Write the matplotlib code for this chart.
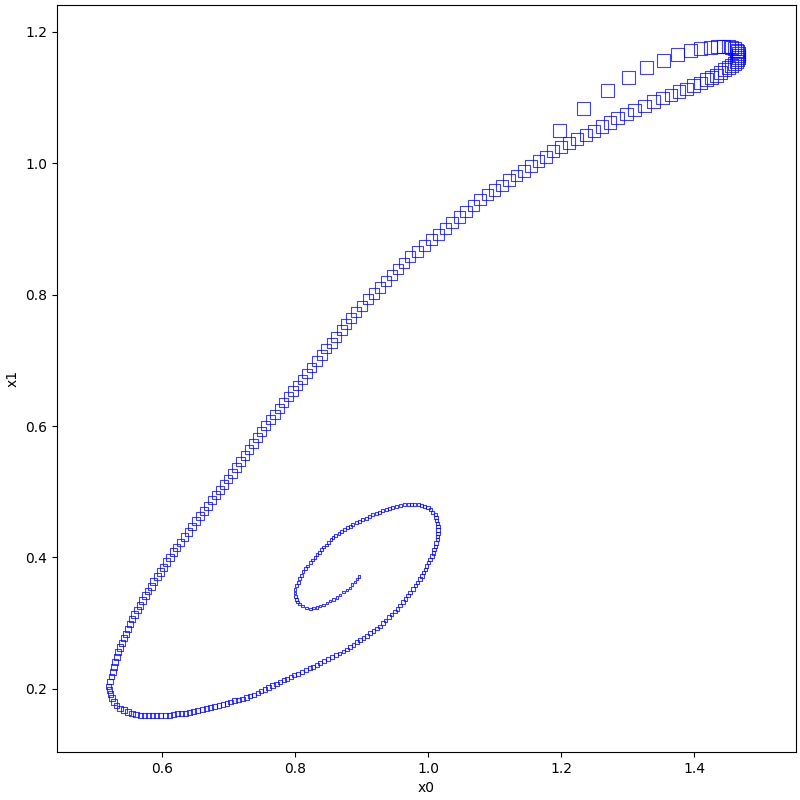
import numpy as np
import matplotlib
matplotlib.use("Agg")
import matplotlib.pyplot as plt

# trajectory (x0, x1), in time order
x0 = [
    # approach to the upper turn
    1.197, 1.234, 1.269, 1.302, 1.329, 1.354, 1.375, 1.394, 1.410, 1.424,
    1.435, 1.444, 1.451, 1.456, 1.460, 1.463, 1.465, 1.467, 1.467, 1.467,
    1.465, 1.463, 1.460, 1.456, 1.451, 1.446, 1.440, 1.433, 1.426, 1.418,
    1.409, 1.399, 1.388, 1.377, 1.365, 1.352, 1.339, 1.325, 1.310,
    # long descent
    1.298, 1.285, 1.273, 1.261, 1.249, 1.237, 1.224, 1.212, 1.200, 1.188,
    1.177, 1.166, 1.155, 1.144, 1.133, 1.122, 1.111, 1.100, 1.089, 1.078,
    1.068, 1.057, 1.047, 1.036, 1.026, 1.015, 1.005, 0.994, 0.984, 0.973,
    0.964, 0.955, 0.946, 0.937, 0.928, 0.919, 0.910, 0.901, 0.892,
    0.884, 0.877, 0.870, 0.862, 0.855, 0.847, 0.840, 0.833, 0.825, 0.818, 0.811,
    0.804, 0.797, 0.790, 0.783, 0.777, 0.770, 0.763, 0.756,
    0.750, 0.744, 0.737, 0.731, 0.725, 0.718, 0.712, 0.706, 0.699,
    0.693, 0.687, 0.681, 0.675, 0.669, 0.663, 0.657, 0.651,
    0.645, 0.640, 0.634, 0.628, 0.622, 0.617,
    0.612, 0.607, 0.602, 0.598, 0.593, 0.588, 0.584,
    0.579, 0.575, 0.571, 0.567, 0.563, 0.559, 0.555,
    0.552, 0.549, 0.546, 0.543, 0.540, 0.537, 0.534,
    0.532, 0.530, 0.528, 0.526, 0.524, 0.522, 0.520,
    # lower loop
    0.521, 0.523, 0.525, 0.528, 0.532, 0.537, 0.543, 0.549, 0.555,
    0.561, 0.568, 0.574, 0.580, 0.586, 0.592, 0.598, 0.605,
    0.611, 0.617, 0.623, 0.630, 0.636, 0.642,
    0.648, 0.654, 0.661, 0.667, 0.673, 0.679, 0.686, 0.692,
    0.698, 0.703, 0.709, 0.715, 0.721, 0.727, 0.732,
    0.738, 0.744, 0.749, 0.755, 0.760, 0.766, 0.772, 0.777,
    0.783, 0.788, 0.794, 0.799, 0.805, 0.811, 0.816, 0.822, 0.827,
    0.833, 0.838, 0.844, 0.850, 0.855, 0.861, 0.867, 0.873, 0.878,
    0.883, 0.888, 0.893, 0.898, 0.903, 0.908, 0.913, 0.918, 0.923, 0.928,
    0.932, 0.936, 0.941, 0.945, 0.950, 0.954, 0.958, 0.962,
    0.966, 0.970, 0.973, 0.977, 0.981, 0.984, 0.988,
    0.991, 0.993, 0.996, 0.998, 1.001, 1.003, 1.006,
    1.008, 1.009, 1.011, 1.012, 1.014,
    1.014, 1.015, 1.015, 1.015,
    1.014, 1.013, 1.012, 1.011,
    1.007, 1.004, 1.000,
    0.995, 0.990, 0.985,
    # inner spiral
    0.980, 0.975, 0.970,
    0.964, 0.959, 0.953, 0.947,
    0.942, 0.937, 0.932, 0.927, 0.922, 0.917,
    0.912, 0.907, 0.902, 0.897, 0.892, 0.887,
    0.883, 0.879, 0.874, 0.870, 0.866, 0.861, 0.857,
    0.854, 0.850, 0.847, 0.843, 0.840, 0.837, 0.833,
    0.830, 0.826, 0.823, 0.819, 0.816, 0.812,
    0.810, 0.807, 0.805, 0.802, 0.800,
    0.800, 0.801, 0.802,
    0.804, 0.807, 0.811,
    0.817, 0.823,
    0.828, 0.833, 0.838,
    0.843, 0.848, 0.853, 0.858, 0.863,
    0.868, 0.873, 0.878, 0.883,
    0.886, 0.890, 0.893, 0.896,
]
x1 = [
    1.049, 1.083, 1.110, 1.130, 1.146, 1.157, 1.165, 1.171, 1.174, 1.176,
    1.177, 1.177, 1.177, 1.176, 1.174, 1.172, 1.170, 1.167, 1.164, 1.161,
    1.158, 1.155, 1.151, 1.148, 1.145, 1.142, 1.138, 1.134, 1.130, 1.127,
    1.122, 1.118, 1.113, 1.109, 1.104, 1.099, 1.094, 1.087, 1.081,
    1.075, 1.069, 1.062, 1.056, 1.049, 1.043, 1.037, 1.030, 1.024, 1.018,
    1.010, 1.003, 0.996, 0.988, 0.981, 0.974, 0.966, 0.959, 0.952, 0.945,
    0.936, 0.927, 0.918, 0.910, 0.901, 0.892, 0.884, 0.875, 0.866, 0.858,
    0.848, 0.839, 0.830, 0.821, 0.811, 0.802, 0.793, 0.783, 0.774,
    0.765, 0.755, 0.746, 0.736, 0.727, 0.718, 0.708, 0.699, 0.689, 0.680, 0.671,
    0.662, 0.653, 0.645, 0.636, 0.627, 0.618, 0.610, 0.601,
    0.592, 0.583, 0.573, 0.564, 0.555, 0.546, 0.537, 0.528, 0.519,
    0.511, 0.503, 0.495, 0.487, 0.479, 0.471, 0.463, 0.455,
    0.447, 0.439, 0.431, 0.423, 0.415, 0.408,
    0.400, 0.393, 0.385, 0.378, 0.371, 0.363, 0.356,
    0.349, 0.342, 0.334, 0.327, 0.320, 0.313, 0.306,
    0.299, 0.291, 0.284, 0.277, 0.270, 0.263, 0.256,
    0.248, 0.241, 0.233, 0.226, 0.219, 0.211, 0.204,
    0.198, 0.192, 0.186, 0.180, 0.175, 0.170, 0.168, 0.165, 0.163,
    0.161, 0.160, 0.160, 0.160, 0.160, 0.160, 0.160, 0.160,
    0.160, 0.161, 0.162, 0.163, 0.163, 0.164,
    0.166, 0.167, 0.169, 0.170, 0.172, 0.173, 0.175, 0.176,
    0.178, 0.180, 0.182, 0.183, 0.185, 0.187, 0.189,
    0.191, 0.194, 0.197, 0.199, 0.202, 0.205, 0.207, 0.210,
    0.213, 0.215, 0.218, 0.221, 0.223, 0.226, 0.229, 0.232, 0.234,
    0.237, 0.240, 0.243, 0.246, 0.249, 0.252, 0.254, 0.257, 0.260,
    0.264, 0.267, 0.271, 0.274, 0.278, 0.281, 0.285, 0.288, 0.292, 0.295,
    0.300, 0.304, 0.309, 0.313, 0.318, 0.322, 0.327, 0.332,
    0.337, 0.342, 0.347, 0.352, 0.357, 0.362, 0.367,
    0.372, 0.377, 0.382, 0.387, 0.392, 0.397, 0.402,
    0.407, 0.412, 0.417, 0.422, 0.427,
    0.432, 0.437, 0.442, 0.447,
    0.452, 0.456, 0.461, 0.465,
    0.469, 0.473, 0.476,
    0.478, 0.479, 0.481,
    0.481, 0.481, 0.481,
    0.480, 0.479, 0.477, 0.476,
    0.474, 0.473, 0.471, 0.469, 0.467, 0.465,
    0.463, 0.460, 0.458, 0.455, 0.453, 0.450,
    0.447, 0.445, 0.442, 0.439, 0.436, 0.433, 0.430,
    0.427, 0.423, 0.419, 0.416, 0.412, 0.408, 0.405,
    0.400, 0.396, 0.392, 0.387, 0.383, 0.379,
    0.373, 0.368, 0.362, 0.357, 0.351,
    0.346, 0.341, 0.336,
    0.332, 0.329, 0.326,
    0.323, 0.322,
    0.323, 0.324, 0.326,
    0.328, 0.331, 0.334, 0.336, 0.339,
    0.343, 0.347, 0.351, 0.354,
    0.359, 0.363, 0.367, 0.371,
]

x0 = np.array(x0)
x1 = np.array(x1)
n = len(x0)

# marker side shrinks along the trajectory (pixels -> points)
idx = np.arange(n)
side_px = np.interp(idx, [0, 20, 38, 90, 147, 210, 271, n - 1],
                    [13, 13, 12.5, 9.5, 5.5, 3.8, 3.0, 2.2])
side_pt = side_px * 72 / 100

fig, ax = plt.subplots(figsize=(8, 8), dpi=100)
fig.subplots_adjust(left=0.071, right=0.995, top=0.994, bottom=0.06)

ax.scatter(x0, x1, s=side_pt ** 2, marker='s', facecolors='none',
           edgecolors='b', linewidths=0.8, alpha=0.75)

ax.set_xlim(0.442, 1.553)
ax.set_ylim(0.104, 1.241)
ax.set_xlabel("x0")
ax.set_ylabel("x1")

fig.savefig("out.png")
